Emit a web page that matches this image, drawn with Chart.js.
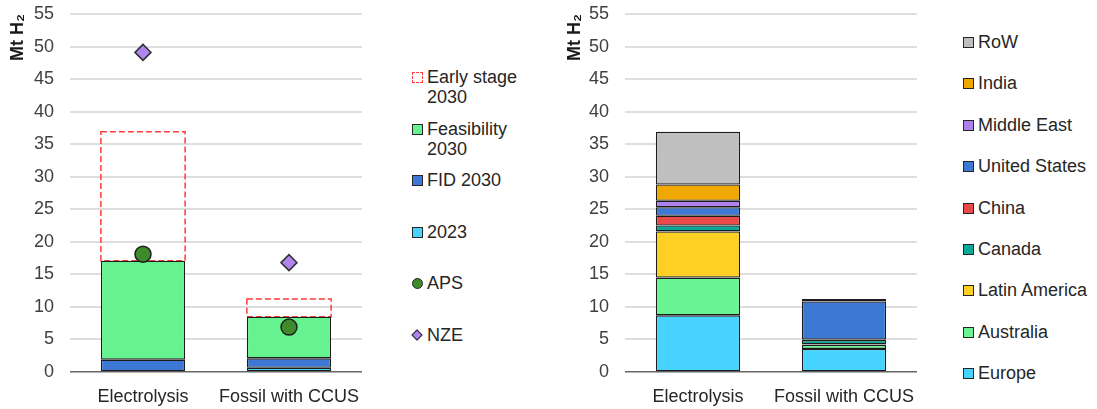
<!DOCTYPE html>
<html>
<head>
<meta charset="utf-8">
<title>Hydrogen production 2030</title>
<script src="https://cdn.jsdelivr.net/npm/chart.js@4.4.1/dist/chart.umd.min.js"></script>
<style>
    body { margin: 0; background: #fff; font-family: Arial, "Liberation Sans", sans-serif; color: #262626; }
    #page { position: relative; width: 1097px; height: 409px; overflow: hidden; }
    .box { position: absolute; top: 0; height: 409px; }
    .legend { position: absolute; font-size: 18px; line-height: 20px; }
    .legend .item { position: relative; padding-left: 15px; }
    .legend .mark { position: absolute; left: 0; top: 5px; width: 11px; height: 11px; box-sizing: border-box; border: 1.5px solid #262626; }
    .legend .mark.dashed { border: 1.5px dashed #ff3b3b; background: #fff; }
    .legend .mark.circle { border-radius: 50%; }
    .legend .mark.diamond { width: 8px; height: 8px; top: 6px; left: 1px; transform: rotate(45deg); }
</style>
</head>
<body>
<div id="page">
    <div class="box" style="left:0;width:380px;"><canvas id="pipelineChart"></canvas></div>
    <div class="legend" id="pipelineLegend" style="left:412px;top:67px;"></div>
    <div class="box" style="left:540px;width:400px;"><canvas id="regionChart"></canvas></div>
    <div class="legend" id="regionLegend" style="left:963px;top:32px;"></div>
</div>
<script>
// Values (Mt H2)
const categories = ['Electrolysis', 'Fossil with CCUS'];
const yTicks = [0, 55, 5]; // min, max, step

// Left: project pipeline by maturity
const installed2023 = [0, 0.65];
const fid2030 = [1.9, 1.45];
const feasibility2030 = [15.2, 6.4];
const earlyStage2030 = [19.8, 2.7];
const apsLevel = [18.1, 6.9];
const nzeLevel = [49.1, 16.8];

// Right: pipeline by region (bottom to top of the stack)
const regions = ['Europe', 'Australia', 'Latin America', 'Canada', 'China', 'United States', 'Middle East', 'India', 'RoW'];
const electrolysisByRegion = [8.7, 5.8, 7.1, 0.9, 1.5, 1.3, 1.0, 2.5, 8.1];
const fossilByRegion = [3.55, 0.65, 0.05, 0.65, 0.1, 5.85, 0.35, 0, 0];
const regionColors = ['#47d3ff', '#6af595', '#fdd023', '#0aa89a', '#e84a4a', '#3d79d4', '#ad82ec', '#f0a800', '#bfbfbf'];

const tickFont = { family: 'Arial, "Liberation Sans", sans-serif', size: 18 };

// Draw dashed outline for the "Early stage" bars (bars have no borderDash)
const dashedOutline = {
    id: 'dashedOutline',
    afterDatasetDraw(chart, args) {
        const ds = chart.data.datasets[args.index];
        if (!ds.dashed) {
            return;
        }
        const ctx = chart.ctx;
        args.meta.data.forEach(bar => {
            const p = bar.getProps(['x', 'y', 'base', 'width'], true);
            ctx.save();
            ctx.setLineDash([6, 3]);
            ctx.strokeStyle = '#ff3b3b';
            ctx.lineWidth = 1.5;
            ctx.strokeRect(p.x - p.width / 2, p.y, p.width, p.base - p.y);
            ctx.restore();
        });
    }
};

function makeScales(axisWidth, titlePad) {
    return {
        x: {
            stacked: true,
            grid: { display: false, drawTicks: false },
            border: { display: false },
            ticks: { font: tickFont, color: '#262626', padding: 14, maxRotation: 0, minRotation: 0, autoSkip: false },
            afterFit: s => { s.height = 37; }
        },
        y: {
            stacked: true,
            min: yTicks[0],
            max: yTicks[1],
            ticks: { stepSize: yTicks[2], font: tickFont, color: '#404040', padding: 16 },
            grid: {
                drawTicks: false,
                color: c => c.tick && c.tick.value === 0 ? '#666666' : '#dedede',
                lineWidth: c => c.tick && c.tick.value === 0 ? 1.5 : 2
            },
            border: { display: false },
            title: {
                display: true,
                text: 'Mt H\u2082',
                align: 'end',
                color: '#1a1a1a',
                font: { family: 'Arial, "Liberation Sans", sans-serif', size: 18, weight: 'bold' },
                padding: { top: titlePad, bottom: 0 }
            },
            afterFit: s => {
                s.width = axisWidth;
                s.paddingTop = 0; // let layout padding place the top of the plot
            }
        }
    };
}

function barSet(label, data, color) {
    return {
        type: 'bar',
        label: label,
        data: data,
        backgroundColor: color,
        borderColor: '#1c1c1c',
        borderWidth: 1.3,
        borderSkipped: false,
        barPercentage: 0.577,
        categoryPercentage: 1,
        stack: 'main',
        order: 2
    };
}

// Left chart
const leftSets = [
    barSet('2023', installed2023, '#47d3ff'),
    barSet('FID 2030', fid2030, '#3d79d4'),
    barSet('Feasibility 2030', feasibility2030, '#66f28f'),
    Object.assign(barSet('Early stage 2030', earlyStage2030, 'rgba(0,0,0,0)'), { borderWidth: 0, dashed: true }),
    {
        type: 'line', label: 'APS', data: apsLevel, showLine: false, stack: 'aps', order: 1,
        pointStyle: 'circle', pointRadius: 8, backgroundColor: '#3d8b2a', borderColor: '#1f1f1f', borderWidth: 1.5
    },
    {
        type: 'line', label: 'NZE', data: nzeLevel, showLine: false, stack: 'nze', order: 1,
        pointStyle: 'rectRot', pointRadius: 8, backgroundColor: '#b085f0', borderColor: '#333333', borderWidth: 1.5
    }
];

new Chart(document.getElementById('pipelineChart'), {
    type: 'bar',
    data: { labels: categories, datasets: leftSets },
    options: {
        responsive: true,
        maintainAspectRatio: false,
        animation: false,
        layout: { padding: { top: 14, right: 18, left: 0, bottom: 0 } },
        plugins: { legend: { display: false }, tooltip: { enabled: false } },
        scales: makeScales(70, 7)
    },
    plugins: [dashedOutline]
});

// Right chart
const rightSets = regions.map((r, i) => barSet(r, [electrolysisByRegion[i], fossilByRegion[i]], regionColors[i]));

new Chart(document.getElementById('regionChart'), {
    type: 'bar',
    data: { labels: categories, datasets: rightSets },
    options: {
        responsive: true,
        maintainAspectRatio: false,
        animation: false,
        layout: { padding: { top: 14, right: 23, left: 0, bottom: 0 } },
        plugins: { legend: { display: false }, tooltip: { enabled: false } },
        scales: makeScales(85, 24)
    }
});

// HTML legends
function addItem(box, lines, markClass, color, height) {
    const item = document.createElement('div');
    item.className = 'item';
    item.style.height = height + 'px';
    const mark = document.createElement('span');
    mark.className = 'mark ' + markClass;
    if (color) {
        mark.style.background = color;
    }
    item.appendChild(mark);
    lines.forEach(t => {
        const line = document.createElement('div');
        line.textContent = t;
        item.appendChild(line);
    });
    box.appendChild(item);
}

const leftLegend = document.getElementById('pipelineLegend');
addItem(leftLegend, ['Early stage', '2030'], 'dashed', null, 51.5);
addItem(leftLegend, ['Feasibility', '2030'], '', '#66f28f', 51.5);
addItem(leftLegend, ['FID 2030'], '', '#3d79d4', 51.5);
addItem(leftLegend, ['2023'], '', '#47d3ff', 51.5);
addItem(leftLegend, ['APS'], 'circle', '#3d8b2a', 51.5);
addItem(leftLegend, ['NZE'], 'diamond', '#b085f0', 51.5);

const rightLegend = document.getElementById('regionLegend');
for (let i = regions.length - 1; i >= 0; i--) {
    addItem(rightLegend, [regions[i]], '', regionColors[i], 41.4);
}
</script>
</body>
</html>
